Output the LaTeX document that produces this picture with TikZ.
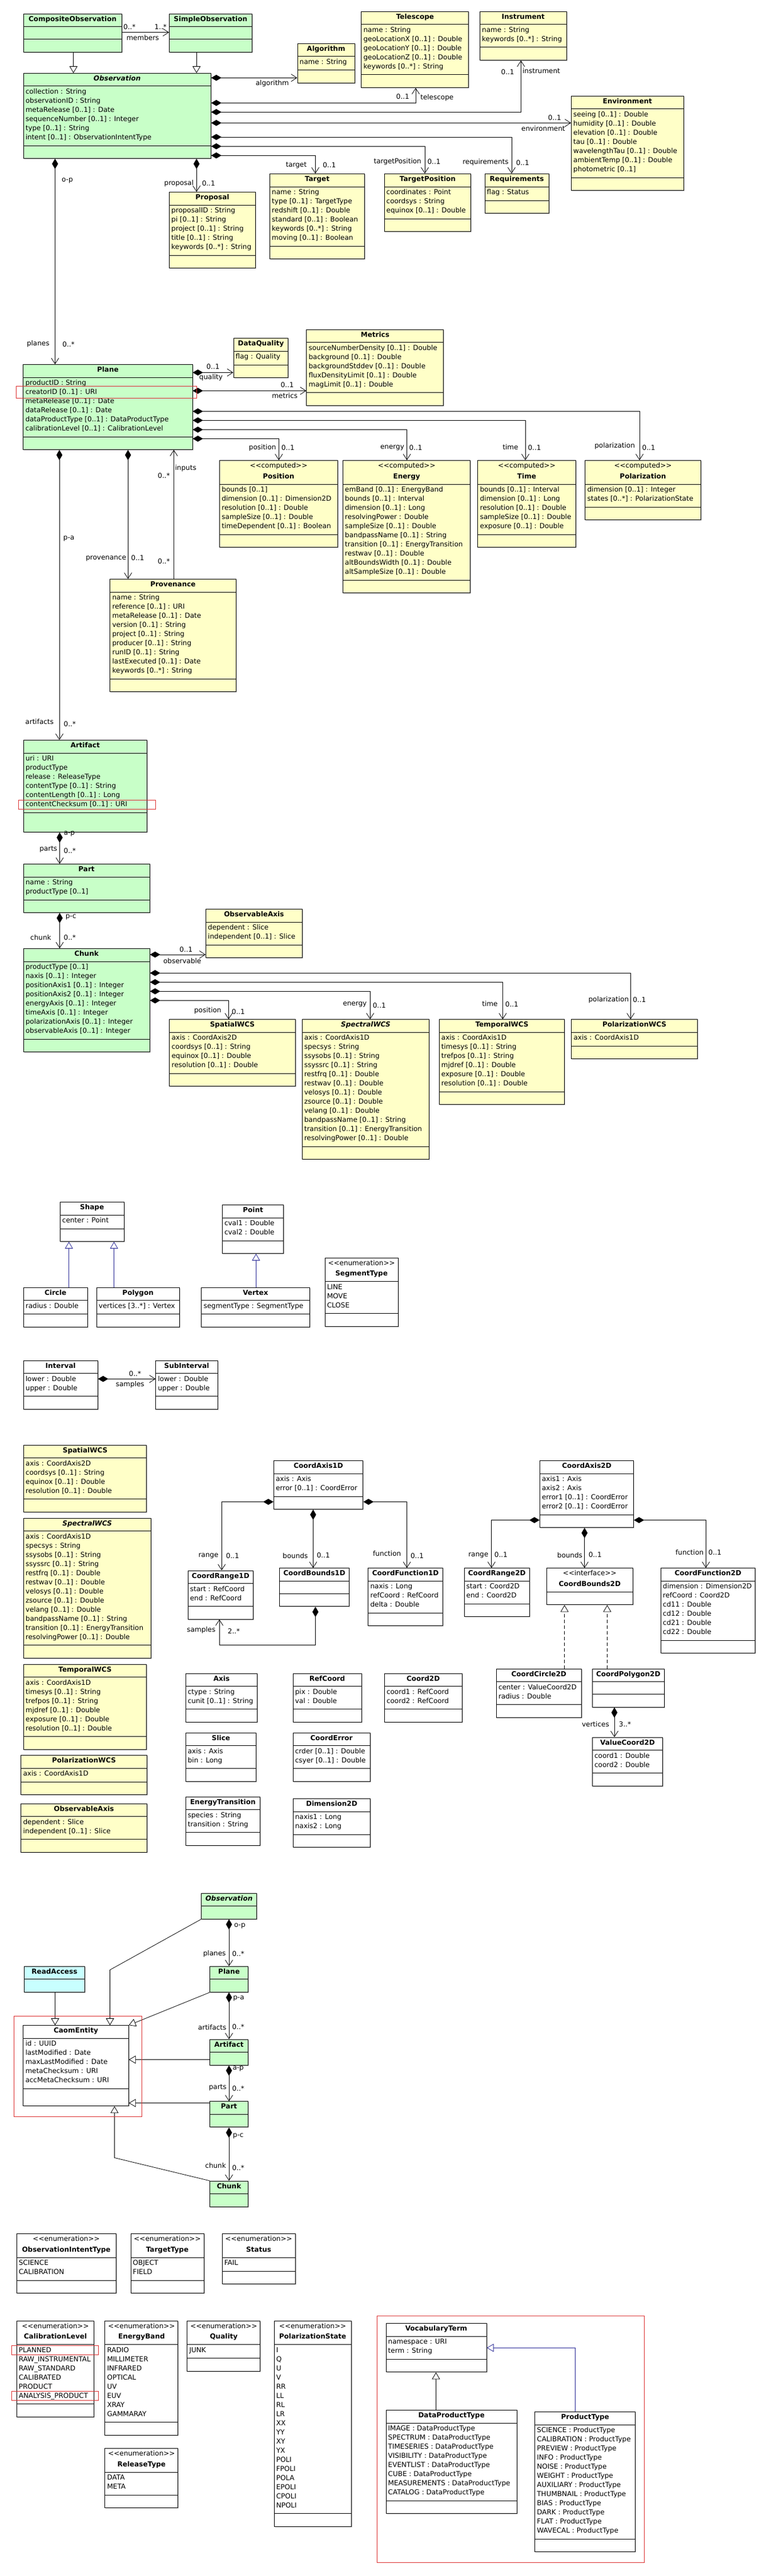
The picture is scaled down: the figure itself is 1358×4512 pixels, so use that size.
\documentclass[tikz,border=0pt]{standalone}
\usepackage{fontspec}
\setmainfont{DejaVu Sans}
\usetikzlibrary{arrows.meta,shadows}
\definecolor{umlgreen}{RGB}{200,255,200}
\definecolor{umlyellow}{RGB}{255,255,200}
\definecolor{umlcyan}{RGB}{200,255,255}
\definecolor{umlred}{RGB}{220,50,50}
\definecolor{umlnavy}{RGB}{40,40,150}
\newcommand{\umlfont}{\fontsize{12}{16}\selectfont}
\newcommand{\stereo}[1]{<\kern0pt<#1>\kern0pt>}
\def\umlop{22}
\tikzset{
  box/.style={draw, line width=1pt, drop shadow={shadow xshift=1.5pt, shadow yshift=-1.5pt, opacity=0.3}},
  gbox/.style={box, fill=umlgreen},
  ybox/.style={box, fill=umlyellow},
  cbox/.style={box, fill=umlcyan},
  wbox/.style={box, fill=white},
  txt/.style={font=\umlfont, inner sep=0pt},
  ttl/.style={font=\umlfont\bfseries, inner sep=0pt},
  comp/.style={line width=0.8pt, {Diamond[length=18pt,width=10.5pt]}-{Straight Barb[length=10pt,width=13pt]}},
  nav/.style={line width=0.8pt, -{Straight Barb[length=10pt,width=13pt]}},
  gen/.style={line width=0.8pt, -{Triangle[length=12pt,width=14pt,fill=white]}},
  real/.style={gen, dash pattern=on 6pt off 4pt},
  hilite/.style={draw=umlred, line width=0.8pt}
}
\newcommand{\umlclass}[9][ybox]{%
  \def\umlst{#6}%
  \ifx\umlst\empty\def\umltH{23}\else\def\umltH{42}\fi
  \ifnum#8<0
    \def\umlaH{0}\def\umloH{22}%
  \else
    \ifnum#8=0 \def\umlaH{22}\else\pgfmathsetmacro\umlaH{16*#8+8}\fi
    \let\umloH\umlop
  \fi
  \pgfmathsetmacro\umlbH{\umltH+\umlaH+\umloH}%
  \pgfmathsetmacro\umlcy{\umltH+\umlaH}%
  \node[#1, minimum width=#5pt, minimum height=\umlbH pt, anchor=north west, inner sep=0pt] (#2) at (#3,#4) {};
  \draw[line width=1pt] ([yshift=-\umltH pt]#2.north west) -- ([yshift=-\umltH pt]#2.north east);
  \ifnum#8<0 \else
    \draw[line width=1pt] ([yshift=-\umlcy pt]#2.north west) -- ([yshift=-\umlcy pt]#2.north east);
  \fi
  \ifx\umlst\empty
    \node[ttl, anchor=base] (#2-t) at ([yshift=-13.5pt]#2.north) {#7};
  \else
    \node[txt, anchor=base] (#2-s) at ([yshift=-13.5pt]#2.north) {\stereo{#6}};
    \node[ttl, anchor=base] (#2-t) at ([yshift=-32pt]#2.north) {#7};
  \fi
  \ifnum#8>0
    \foreach \attrtext [count=\attrno] in {#9} {
      \pgfmathsetmacro\umlay{\umltH+13.5+16*(\attrno-1)}
      \node[txt, anchor=base west] (#2-a\attrno) at ([xshift=4pt, yshift=-\umlay pt]#2.north west) {\attrtext};
    }
  \fi
}
\newcommand{\lab}[4]{\node[txt] (#1) at (#2,#3) {#4};}
\begin{document}
\begin{tikzpicture}[x=1pt, y=-1pt]
\fill[white] (0,0) rectangle (1358,4512);
\useasboundingbox (0,0) rectangle (1358,4512);

\umlclass[gbox]{compobs}{40.6}{24}{172}{}{CompositeObservation}{0}{}
\umlclass[gbox]{simpobs}{296}{24}{144.6}{}{SimpleObservation}{0}{}
\umlclass[gbox]{obs}{40.6}{128}{328.2}{}{\itshape Observation}{6}{collection : String, observationID : String, metaRelease [0..1] : Date, sequenceNumber [0..1] : Integer, type [0..1] : String, intent [0..1] : ObservationIntentType}
\umlclass{algorithm}{520.5}{76}{100}{}{Algorithm}{1}{name : String}
\umlclass{telescope}{632.4}{20}{188}{}{Telescope}{5}{name : String, geoLocationX [0..1] : Double, geoLocationY [0..1] : Double, geoLocationZ [0..1] : Double, keywords [0..*] : String}
\umlclass{instrument}{840}{20}{151.6}{}{Instrument}{2}{name : String, keywords [0..*] : String}
\umlclass{environment}{1000}{168}{196.5}{}{Environment}{7}{seeing [0..1] : Double, humidity [0..1] : Double, elevation [0..1] : Double, tau [0..1] : Double, wavelengthTau [0..1] : Double, ambientTemp [0..1] : Double, photometric [0..1]}
\umlclass{proposal}{296}{336}{151}{}{Proposal}{5}{proposalID : String, pi [0..1] : String, project [0..1] : String, title [0..1] : String, keywords [0..*] : String}
\umlclass{target}{472}{304}{166}{}{Target}{6}{name : String, type [0..1] : TargetType, redshift [0..1] : Double, standard [0..1] : Boolean, keywords [0..*] : String, moving [0..1] : Boolean}
\umlclass{targetpos}{672.5}{304}{151.8}{}{TargetPosition}{3}{coordinates : Point, coordsys : String, equinox [0..1] : Double}
\umlclass{requirements}{848.5}{304}{112.1}{}{Requirements}{1}{flag : Status}

\umlclass[gbox]{plane}{40.3}{638}{296.2}{}{Plane}{6}{productID : String, creatorID [0..1] : URI, metaRelease [0..1] : Date, dataRelease [0..1] : Date, dataProductType [0..1] : DataProductType, calibrationLevel [0..1] : CalibrationLevel}
\umlclass{dataquality}{408.5}{592.4}{95.8}{}{DataQuality}{1}{flag : Quality}
\umlclass{metrics}{536.4}{576.6}{240}{}{Metrics}{5}{sourceNumberDensity [0..1] : Double, background [0..1] : Double, backgroundStddev [0..1] : Double, fluxDensityLimit [0..1] : Double, magLimit [0..1] : Double}
\umlclass{position}{384.2}{806}{206.4}{computed}{Position}{5}{bounds [0..1], dimension [0..1] : Dimension2D, resolution [0..1] : Double, sampleSize [0..1] : Double, timeDependent [0..1] : Boolean}
\umlclass{energy}{600}{806}{223.3}{computed}{Energy}{10}{emBand [0..1] : EnergyBand, bounds [0..1] : Interval, dimension [0..1] : Long, resolvingPower : Double, sampleSize [0..1] : Double, bandpassName [0..1] : String, transition [0..1] : EnergyTransition, restwav [0..1] : Double, altBoundsWidth [0..1] : Double, altSampleSize [0..1] : Double}
\umlclass{time}{836.4}{806}{171.1}{computed}{Time}{5}{bounds [0..1] : Interval, dimension [0..1] : Long, resolution [0..1] : Double, sampleSize [0..1] : Double, exposure [0..1] : Double}
\umlclass{polarization}{1024.4}{806}{202.1}{computed}{Polarization}{2}{dimension [0..1] : Integer, states [0..*] : PolarizationState}
\umlclass{provenance}{192.4}{1014}{220.1}{}{Provenance}{9}{name : String, reference [0..1] : URI, metaRelease [0..1] : Date, version [0..1] : String, project [0..1] : String, producer [0..1] : String, runID [0..1] : String, lastExecuted [0..1] : Date, keywords [0..*] : String}
\def\umlop{34}
\umlclass[gbox]{artifact}{40.6}{1296}{216.1}{}{Artifact}{6}{uri : URI, productType, release : ReleaseType, contentType [0..1] : String, contentLength [0..1] : Long, contentChecksum [0..1] : URI}
\def\umlop{22}
\umlclass[gbox]{part}{40.6}{1513}{221}{}{Part}{2}{name : String, productType [0..1]}
\umlclass[gbox]{chunk}{40.6}{1661}{221}{}{Chunk}{8}{productType [0..1], naxis [0..1] : Integer, positionAxis1 [0..1] : Integer, positionAxis2 [0..1] : Integer, energyAxis [0..1] : Integer, timeAxis [0..1] : Integer, polarizationAxis [0..1] : Integer, observableAxis [0..1] : Integer}
\umlclass{obsaxis}{360}{1592}{168.6}{}{ObservableAxis}{2}{dependent : Slice, independent [0..1] : Slice}
\umlclass{spatialwcs}{296.4}{1785.3}{220.1}{}{SpatialWCS}{4}{axis : CoordAxis2D, coordsys [0..1] : String, equinox [0..1] : Double, resolution [0..1] : Double}
\umlclass{spectralwcs}{528.6}{1785.3}{222.7}{}{\itshape SpectralWCS}{12}{axis : CoordAxis1D, specsys : String, ssysobs [0..1] : String, ssyssrc [0..1] : String, restfrq [0..1] : Double, restwav [0..1] : Double, velosys [0..1] : Double, zsource [0..1] : Double, velang [0..1] : Double, bandpassName [0..1] : String, transition [0..1] : EnergyTransition, resolvingPower [0..1] : Double}
\umlclass{temporalwcs}{768.7}{1785.3}{219.7}{}{TemporalWCS}{6}{axis : CoordAxis1D, timesys [0..1] : String, trefpos [0..1] : String, mjdref [0..1] : Double, exposure [0..1] : Double, resolution [0..1] : Double}
\umlclass{polwcs}{1000.4}{1785.3}{220.2}{}{PolarizationWCS}{1}{axis : CoordAxis1D}

\umlclass[wbox]{shp}{104.7}{2105}{112}{}{Shape}{1}{center : Point}
\umlclass[wbox]{pnt}{388.8}{2110}{107.6}{}{Point}{2}{cval1 : Double, cval2 : Double}
\umlclass[wbox]{circ}{40.7}{2254.7}{112}{}{Circle}{1}{radius : Double}
\umlclass[wbox]{poly}{168.7}{2254.7}{144.9}{}{Polygon}{1}{vertices [3..*] : Vertex}
\umlclass[wbox]{vtx}{352.4}{2254.7}{189.1}{}{Vertex}{1}{segmentType : SegmentType}
\umlclass[wbox]{segtype}{568.6}{2202.7}{128}{enumeration}{SegmentType}{3}{LINE, MOVE, CLOSE}
\umlclass[wbox]{ival}{40.7}{2382.7}{129.9}{}{Interval}{2}{lower : Double, upper : Double}
\umlclass[wbox]{subival}{272.4}{2382.7}{108.1}{}{SubInterval}{2}{lower : Double, upper : Double}

\umlclass{spatialwcsb}{40.7}{2530.9}{215.7}{}{SpatialWCS}{4}{axis : CoordAxis2D, coordsys [0..1] : String, equinox [0..1] : Double, resolution [0..1] : Double}
\umlclass{spectralwcsb}{40.7}{2658.9}{223}{}{\itshape SpectralWCS}{12}{axis : CoordAxis1D, specsys : String, ssysobs [0..1] : String, ssyssrc [0..1] : String, restfrq [0..1] : Double, restwav [0..1] : Double, velosys [0..1] : Double, zsource [0..1] : Double, velang [0..1] : Double, bandpassName [0..1] : String, transition [0..1] : EnergyTransition, resolvingPower [0..1] : Double}
\umlclass{temporalwcsb}{40.7}{2914.8}{215.7}{}{TemporalWCS}{6}{axis : CoordAxis1D, timesys [0..1] : String, trefpos [0..1] : String, mjdref [0..1] : Double, exposure [0..1] : Double, resolution [0..1] : Double}
\umlclass{polwcsb}{36.4}{3074.3}{220.2}{}{PolarizationWCS}{1}{axis : CoordAxis1D}
\umlclass{obsaxisb}{36.4}{3158.5}{220.2}{}{ObservableAxis}{2}{dependent : Slice, independent [0..1] : Slice}

\umlclass[wbox]{coordaxis1d}{478.9}{2558}{156.4}{}{CoordAxis1D}{2}{axis : Axis, error [0..1] : CoordError}
\umlclass[wbox]{coordrange1d}{328.6}{2750.5}{114.5}{}{CoordRange1D}{2}{start : RefCoord, end : RefCoord}
\umlclass[wbox]{coordbounds1d}{488.8}{2746.3}{122.5}{}{CoordBounds1D}{0}{}
\umlclass[wbox]{coordfunc1d}{644.4}{2746.3}{130.4}{}{CoordFunction1D}{3}{naxis : Long, refCoord : RefCoord, delta : Double}
\umlclass[wbox]{coordaxis2d}{944.9}{2558}{164.2}{}{CoordAxis2D}{4}{axis1 : Axis, axis2 : Axis, error1 [0..1] : CoordError, error2 [0..1] : CoordError}
\umlclass[wbox]{coordrange2d}{812.5}{2746.3}{114.5}{}{CoordRange2D}{2}{start : Coord2D, end : Coord2D}
\umlclass[wbox]{coordbounds2d}{956.8}{2746.3}{151}{interface}{CoordBounds2D}{-1}{}
\umlclass[wbox]{coordfunc2d}{1156.7}{2746.3}{165.5}{}{CoordFunction2D}{6}{dimension : Dimension2D, refCoord : Coord2D, cd11 : Double, cd12 : Double, cd21 : Double, cd22 : Double}
\umlclass[wbox]{coordcircle2d}{868.8}{2922.6}{148.9}{}{CoordCircle2D}{2}{center : ValueCoord2D, radius : Double}
\umlclass[wbox]{coordpoly2d}{1036.9}{2922.6}{125.8}{}{CoordPolygon2D}{0}{}
\umlclass[wbox]{valuecoord2d}{1036.9}{3042.6}{123.1}{}{ValueCoord2D}{2}{coord1 : Double, coord2 : Double}
\umlclass[wbox]{axiscls}{324.6}{2930.6}{125.8}{}{Axis}{2}{ctype : String, cunit [0..1] : String}
\umlclass[wbox]{refcoord}{512.6}{2930.6}{119.9}{}{RefCoord}{2}{pix : Double, val : Double}
\umlclass[wbox]{coord2d}{672.8}{2930.6}{135.7}{}{Coord2D}{2}{coord1 : RefCoord, coord2 : RefCoord}
\umlclass[wbox]{slicecls}{324.6}{3034.6}{123.8}{}{Slice}{2}{axis : Axis, bin : Long}
\umlclass[wbox]{coorderror}{512.6}{3034.6}{135.1}{}{CoordError}{2}{crder [0..1] : Double, csyer [0..1] : Double}
\umlclass[wbox]{energytrans}{324.6}{3146.5}{130.4}{}{EnergyTransition}{2}{species : String, transition : String}
\umlclass[wbox]{dimension2d}{512.6}{3150.3}{135.7}{}{Dimension2D}{2}{naxis1 : Long, naxis2 : Long}

\umlclass[gbox]{obs2}{352.3}{3315.6}{96.5}{}{\itshape Observation}{-1}{}
\umlclass[gbox]{plane2}{367.3}{3443.7}{66.5}{}{Plane}{-1}{}
\umlclass[gbox]{artifact2}{367.3}{3571.7}{66.5}{}{Artifact}{-1}{}
\umlclass[gbox]{part2}{367.3}{3680.4}{66.5}{}{Part}{-1}{}
\umlclass[gbox]{chunk2}{367.3}{3819.7}{66.5}{}{Chunk}{-1}{}
\umlclass[cbox]{readaccess}{42.3}{3443.7}{105.2}{}{ReadAccess}{-1}{}
\def\umlop{30}
\umlclass[wbox]{caomentity}{40.3}{3547.2}{184.3}{}{CaomEntity}{5}{id : UUID, lastModified : Date, maxLastModified : Date, metaChecksum : URI, accMetaChecksum : URI}
\def\umlop{22}

\umlclass[wbox]{obsintent}{28.6}{3912.4}{173.9}{enumeration}{ObservationIntentType}{2}{SCIENCE, CALIBRATION}
\umlclass[wbox]{targettype}{228.5}{3912.4}{128}{enumeration}{TargetType}{2}{OBJECT, FIELD}
\umlclass[wbox]{status}{388.6}{3912.4}{127.9}{enumeration}{Status}{1}{FAIL}
\umlclass[wbox]{callevel}{28.6}{4064.6}{135.8}{enumeration}{CalibrationLevel}{6}{PLANNED, RAW\_INSTRUMENTAL, RAW\_STANDARD, CALIBRATED, PRODUCT, ANALYSIS\_PRODUCT}
\umlclass[wbox]{energyband}{183.4}{4064.6}{128}{enumeration}{EnergyBand}{8}{RADIO, MILLIMETER, INFRARED, OPTICAL, UV, EUV, XRAY, GAMMARAY}
\umlclass[wbox]{quality}{327.4}{4064.6}{127.9}{enumeration}{Quality}{1}{JUNK}
\umlclass[wbox]{polstate}{479.6}{4064.6}{134.9}{enumeration}{PolarizationState}{18}{I, Q, U, V, RR, LL, RL, LR, XX, YY, XY, YX, POLI, FPOLI, POLA, EPOLI, CPOLI, NPOLI}
\umlclass[wbox]{releasetype}{183.4}{4288.3}{128}{enumeration}{ReleaseType}{2}{DATA, META}
\umlclass[wbox]{vocabterm}{675.5}{4069.3}{176}{}{VocabularyTerm}{2}{namespace : URI, term : String}
\umlclass[wbox]{dataproducttype}{675.5}{4221.3}{229.2}{}{DataProductType}{8}{IMAGE : DataProductType, SPECTRUM : DataProductType, TIMESERIES : DataProductType, VISIBILITY : DataProductType, EVENTLIST : DataProductType, CUBE : DataProductType, MEASUREMENTS : DataProductType, CATALOG : DataProductType}
\umlclass[wbox]{producttype}{936.2}{4224.3}{176}{}{ProductType}{12}{SCIENCE : ProductType, CALIBRATION : ProductType, PREVIEW : ProductType, INFO : ProductType, NOISE : ProductType, WEIGHT : ProductType, AUXILIARY : ProductType, THUMBNAIL : ProductType, BIAS : ProductType, DARK : ProductType, FLAT : ProductType, WAVECAL : ProductType}

\draw[nav] (compobs.east |- 0,56.7) -- (simpobs.west |- 0,56.7);
\draw[gen] (compobs.south -| 128.6,0) -- (obs.north -| 128.6,0);
\draw[gen] (simpobs.south -| 344.2,0) -- (obs.north -| 344.2,0);
\draw[comp] (obs.east |- 0,136.3) -- (algorithm.west |- 0,136.3);
\draw[comp] (obs.east |- 0,180.3) -| (telescope.south -| 728,0);
\draw[comp] (obs.east |- 0,196.3) -| (instrument.south -| 912.3,0);
\draw[comp] (obs.east |- 0,215.3) -- (environment.west |- 0,215.3);
\draw[comp] (obs.east |- 0,240) -| (requirements.north -| 895.9,0);
\draw[comp] (obs.east |- 0,256.3) -| (targetpos.north -| 744,0);
\draw[comp] (obs.east |- 0,272.3) -| (target.north -| 552.2,0);
\draw[comp] (obs.south -| 344.2,0) -- (proposal.north -| 344.2,0);
\draw[comp] (obs.south -| 96.4,0) -- (plane.north -| 96.4,0);
\lab{m-mem1}{226.8}{46.7}{0..*}
\lab{m-mem2}{281.3}{46.7}{1..*}
\lab{r-mem}{250}{65.7}{members}
\lab{r-alg}{476.8}{145.7}{algorithm}
\lab{m-tel}{705.4}{169}{0..1}
\lab{r-tel}{765.3}{170.7}{telescope}
\lab{m-ins}{889.1}{125.7}{0..1}
\lab{r-ins}{948}{123.7}{instrument}
\lab{m-env}{971.3}{205.7}{0..1}
\lab{r-env}{951.4}{224.7}{environment}
\lab{r-req}{850.4}{284}{requirements}
\lab{m-req}{915.2}{285.3}{0..1}
\lab{r-tp}{696.2}{282.7}{targetPosition}
\lab{m-tp}{760}{282.7}{0..1}
\lab{r-tgt}{518.8}{289.3}{target}
\lab{m-tgt}{576.8}{289.3}{0..1}
\lab{r-prop}{313.4}{320.7}{proposal}
\lab{m-prop}{365.2}{320.7}{0..1}
\lab{c-op}{117.9}{316.7}{o-p}
\lab{r-planes}{66.8}{601.9}{planes}
\lab{m-planes}{120.1}{603.1}{0..*}

\draw[comp] (plane.east |- 0,652.5) -- (dataquality.west |- 0,652.5);
\draw[comp] (plane.east |- 0,684.5) -- (metrics.west |- 0,684.5);
\draw[comp] (plane.east |- 0,720.5) -| (polarization.north -| 1120,0);
\draw[comp] (plane.east |- 0,736.3) -| (time.north -| 920,0);
\draw[comp] (plane.east |- 0,752.5) -| (energy.north -| 712.6,0);
\draw[comp] (plane.east |- 0,768.4) -| (position.north -| 488.3,0);
\draw[comp] (plane.south -| 104,0) -- (artifact.north -| 104,0);
\draw[comp] (plane.south -| 224.2,0) -- (provenance.north -| 224.2,0);
\draw[nav] (provenance.north -| 304.4,0) -- (plane.south -| 304.4,0);
\draw[comp] (artifact.south -| 104.5,0) -- (part.north -| 104.5,0);
\draw[comp] (part.south -| 104.5,0) -- (chunk.north -| 104.5,0);
\lab{m-dq}{373}{642.6}{0..1}
\lab{r-dq}{369.5}{661.2}{quality}
\lab{m-met}{503}{674.6}{0..1}
\lab{r-met}{498.7}{693.2}{metrics}
\lab{r-pol}{1076.6}{781}{polarization}
\lab{m-pol}{1136.1}{784.6}{0..1}
\lab{r-time}{893.9}{782.6}{time}
\lab{m-time}{936}{784.6}{0..1}
\lab{r-en}{687}{784.6}{energy}
\lab{m-en}{728.1}{784.6}{0..1}
\lab{r-pos}{459.7}{783.8}{position}
\lab{m-pos}{504.3}{783.8}{0..1}
\lab{c-pa}{120.6}{943.1}{p-a}
\lab{r-prov}{185.6}{978.7}{provenance}
\lab{m-prov}{241.1}{977.5}{0..1}
\lab{r-inp}{325.2}{820.6}{inputs}
\lab{m-inp1}{287.1}{833.6}{0..*}
\lab{m-inp2}{287.1}{983.5}{0..*}
\lab{r-art}{69.2}{1263.7}{artifacts}
\lab{m-art}{122.3}{1267.7}{0..*}
\lab{c-ap}{121.4}{1460.7}{a-p}
\lab{r-parts}{84.8}{1487.2}{parts}
\lab{m-parts}{122.3}{1490.3}{0..*}
\lab{c-pc}{124.1}{1606.2}{p-c}
\lab{r-chunk}{71.4}{1641.7}{chunk}
\lab{m-chunk}{122.3}{1641.7}{0..*}

\draw[comp] (chunk.east |- 0,1672) -- (obsaxis.west |- 0,1672);
\draw[comp] (chunk.east |- 0,1704.3) -| (polwcs.north -| 1104.3,0);
\draw[comp] (chunk.east |- 0,1720.3) -| (temporalwcs.north -| 880.4,0);
\draw[comp] (chunk.east |- 0,1736.3) -| (spectralwcs.north -| 648.2,0);
\draw[comp] (chunk.east |- 0,1752.3) -| (spatialwcs.north -| 400.4,0);
\lab{m-obs}{325.9}{1662.7}{0..1}
\lab{r-obs}{319.2}{1682.7}{observable}
\lab{r-wpol}{1065.8}{1750.7}{polarization}
\lab{m-wpol}{1119.9}{1750.7}{0..1}
\lab{r-wtime}{858}{1757.7}{time}
\lab{m-wtime}{896.4}{1758.7}{0..1}
\lab{r-wen}{621.4}{1759.3}{energy}
\lab{m-wen}{664.3}{1761}{0..1}
\lab{r-wpos}{363.8}{1770}{position}
\lab{m-wpos}{417.4}{1771.7}{0..1}

\draw[gen, umlnavy] (circ.north -| 120.7,0) -- (shp.south -| 120.7,0);
\draw[gen, umlnavy] (poly.north -| 199.7,0) -- (shp.south -| 199.7,0);
\draw[gen, umlnavy] (vtx.north -| 448.4,0) -- (pnt.south -| 448.4,0);
\draw[comp] (ival.east |- 0,2415.2) -- (subival.west |- 0,2415.2);
\lab{m-smp}{236.5}{2406}{0..*}
\lab{r-smp}{227.8}{2425}{samples}

\coordinate (smpcorner) at (384.2,2881.8);
\draw[comp] (coordaxis1d.west |- 0,2630.5) -| (coordrange1d.north -| 388.2,0);
\draw[comp] (coordaxis1d.south -| 548.4,0) -- (coordbounds1d.north -| 548.4,0);
\draw[comp] (coordaxis1d.east |- 0,2630.5) -| (coordfunc1d.north -| 712.6,0);
\draw[comp] (coordbounds1d.south -| 552.4,0) |- (smpcorner) -- (coordrange1d.south -| smpcorner);
\draw[comp] (coordaxis2d.west |- 0,2662.5) -| (coordrange2d.north -| 860.8,0);
\draw[comp] (coordaxis2d.south -| 1023.7,0) -- (coordbounds2d.north -| 1023.7,0);
\draw[comp] (coordaxis2d.east |- 0,2662.5) -| (coordfunc2d.north -| 1236.2,0);
\draw[real] (coordcircle2d.north -| 988.6,0) -- (coordbounds2d.south -| 988.6,0);
\draw[real] (coordpoly2d.north -| 1063.4,0) -- (coordbounds2d.south -| 1063.4,0);
\draw[comp] (coordpoly2d.south -| 1076,0) -- (valuecoord2d.north -| 1076,0);
\lab{r-rng1}{365}{2725}{range}
\lab{m-rng1}{407.2}{2725}{0..1}
\lab{r-bnd1}{517.2}{2725}{bounds}
\lab{m-bnd1}{566.2}{2723.8}{0..1}
\lab{r-fn1}{677.7}{2721.3}{function}
\lab{m-fn1}{730.5}{2725}{0..1}
\lab{r-smp1}{352.4}{2854.8}{samples}
\lab{m-smp1}{409.6}{2856.7}{2..*}
\lab{r-rng2}{837.7}{2724.8}{range}
\lab{m-rng2}{877.4}{2723.5}{0..1}
\lab{r-bnd2}{997.9}{2723.5}{bounds}
\lab{m-bnd2}{1042.2}{2723.5}{0..1}
\lab{r-fn2}{1207.7}{2719.3}{function}
\lab{m-fn2}{1252.1}{2719.3}{0..1}
\lab{r-vtx}{1042.9}{3019.9}{vertices}
\lab{m-vtx}{1094.5}{3020.3}{3..*}

\coordinate (obsbend) at (192.6,3450.3);
\coordinate (chunkbend) at (200.5,3779.4);
\draw[comp] (obs2.south) -- (plane2.north);
\draw[comp] (plane2.south) -- (artifact2.north);
\draw[comp] (artifact2.south) -- (part2.north);
\draw[comp] (part2.south) -- (chunk2.north);
\draw[gen] (readaccess.south -| 96.5,0) -- (caomentity.north -| 96.5,0);
\draw[gen] (obs2.south west) -- (obsbend) -- (caomentity.north -| obsbend);
\draw[gen] (plane2.south west) -- (caomentity.north east);
\draw[gen] (artifact2.west |- 0,3607.5) -- (caomentity.east |- 0,3607.5);
\draw[gen] (part2.west |- 0,3683.5) -- (caomentity.east |- 0,3683.5);
\draw[gen] (chunk2.north west) -- (chunkbend) -- (caomentity.south -| chunkbend);
\lab{c-op2}{419.9}{3373.8}{o-p}
\lab{r-planes2}{375.6}{3421.7}{planes}
\lab{m-planes2}{417.2}{3421.7}{0..*}
\lab{c-pa2}{418}{3500.8}{p-a}
\lab{r-art2}{371.7}{3551.3}{artifacts}
\lab{m-art2}{417.2}{3549.8}{0..*}
\lab{c-ap2}{417.2}{3623.3}{a-p}
\lab{r-parts2}{381.2}{3656}{parts}
\lab{m-parts2}{417.2}{3658}{0..*}
\lab{c-pc2}{417.2}{3741.1}{p-c}
\lab{r-chunk2}{377.6}{3793.2}{chunk}
\lab{m-chunk2}{417.2}{3797.2}{0..*}

\draw[gen] (dataproducttype.north -| 763.5,0) -- (vocabterm.south -| 763.5,0);
\draw[gen, umlnavy] (producttype.north -| 1007.8,0) |- (vocabterm.east |- 0,4112.3);

\draw[hilite] (28.6,676) rectangle (344.8,697);
\draw[hilite] (32,1401) rectangle (272.8,1417);
\draw[hilite] (24.5,3531.4) rectangle (248.7,3707.4);
\draw[hilite] (20.4,4108.2) rectangle (172.6,4124.5);
\draw[hilite] (20.4,4188.5) rectangle (172.6,4204.7);
\draw[hilite] (660.5,4056.3) rectangle (1128.2,4488.3);
\end{tikzpicture}
\end{document}
